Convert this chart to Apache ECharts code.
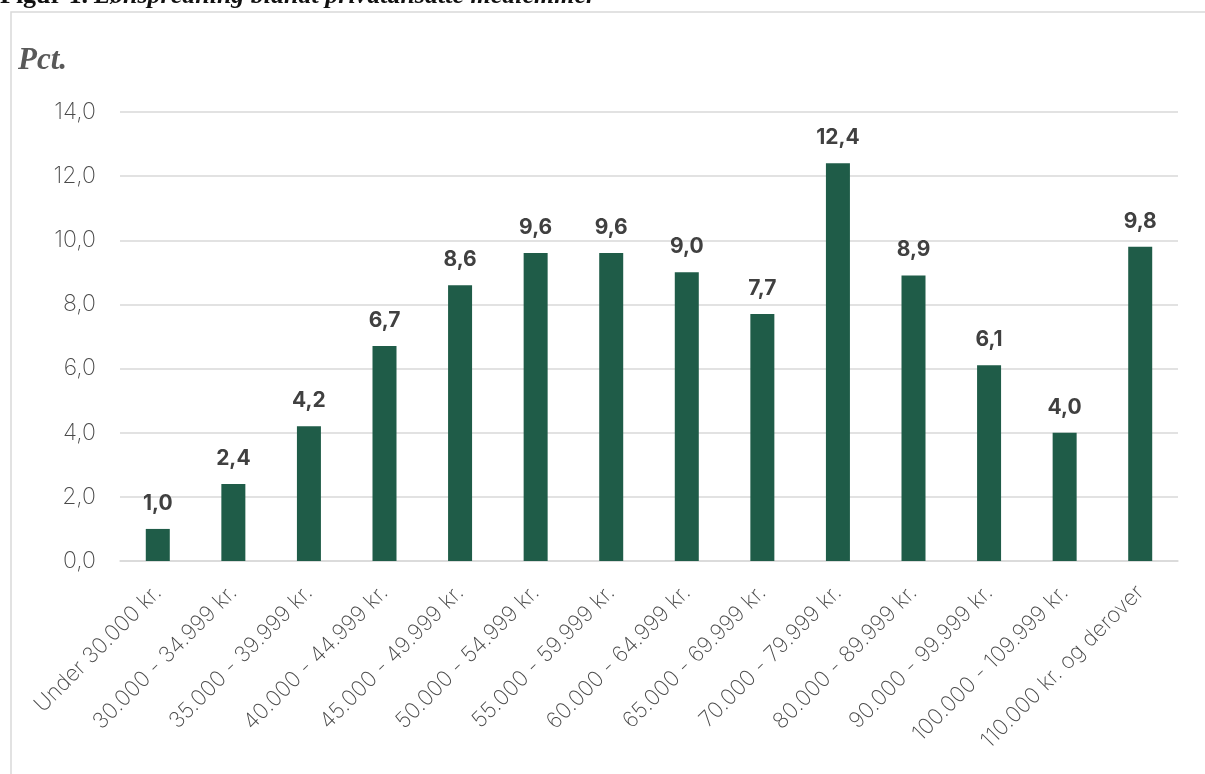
<!DOCTYPE html>
<html>
<head>
<meta charset="utf-8">
<script src="https://cdn.jsdelivr.net/npm/echarts@6/dist/echarts.min.js"></script>
<style>
html,body{margin:0;padding:0;background:#fff;}
#c{width:1205px;height:774px;}
</style>
</head>
<body>
<div id="c"></div>
<script>
const categories = ["Under 30.000 kr.","30.000 - 34.999 kr.","35.000 - 39.999 kr.","40.000 - 44.999 kr.","45.000 - 49.999 kr.","50.000 - 54.999 kr.","55.000 - 59.999 kr.","60.000 - 64.999 kr.","65.000 - 69.999 kr.","70.000 - 79.999 kr.","80.000 - 89.999 kr.","90.000 - 99.999 kr.","100.000 - 109.999 kr.","110.000 kr. og derover"];
const values = [1.0,2.4,4.2,6.7,8.6,9.6,9.6,9.0,7.7,12.4,8.9,6.1,4.0,9.8];
const yTicks = {min:0, max:14, interval:2};
const titleText = "Lønspredning blandt privatansatte medlemmer";
const unitText = "Pct.";

const fmt = v => Number(v).toFixed(1).replace('.', ',');
const chart = echarts.init(document.getElementById('c'));
chart.setOption({
  animation:false,
  backgroundColor:'#fff',
  graphic:[
    {type:'rect', shape:{x:11,y:12,width:1300,height:900}, style:{fill:'none',stroke:'#d9d9d9',lineWidth:1.5}, silent:true},
    {type:'text', left:0, top:-17, style:{
      text:'{b|Figur 1.}{s| }{i|'+titleText+'}',
      rich:{
        b:{fontFamily:'Liberation Serif',fontWeight:'bold',fontSize:26,fill:'#111'},
        s:{fontFamily:'Liberation Serif',fontSize:26,width:6},
        i:{fontFamily:'Liberation Serif',fontWeight:'bold',fontStyle:'italic',fontSize:26,fill:'#111'}
      }}},
    {type:'text', left:18, top:45, style:{text:unitText, fontFamily:'Liberation Serif', fontStyle:'italic', fontWeight:'bold', fontSize:31, fill:'#595959'}}
  ],
  grid:{left:120,right:27,top:112,bottom:213,containLabel:false},
  xAxis:{
    type:'category', data:categories,
    axisLine:{lineStyle:{color:'#d9d9d9',width:1.5}},
    axisTick:{show:false},
    axisLabel:{rotate:45, interval:0, margin:28, color:'#4a4a4a', fontSize:22, fontFamily:'Inter', fontWeight:200}
  },
  yAxis:{
    type:'value', min:yTicks.min, max:yTicks.max, interval:yTicks.interval,
    axisLine:{show:false}, axisTick:{show:false},
    splitLine:{lineStyle:{color:'#d9d9d9',width:1.5}},
    axisLabel:{formatter:fmt, margin:24, color:'#4a4a4a', fontSize:23, fontFamily:'Inter', fontWeight:200}
  },
  series:[{
    type:'bar', data:values, barWidth:24,
    itemStyle:{color:'#1f5c48'},
    label:{show:true, position:'top', distance:15, formatter:p=>fmt(p.value), color:'#404040', fontSize:21, fontWeight:'bold', fontFamily:'Inter'}
  }]
});
</script>
</body>
</html>
